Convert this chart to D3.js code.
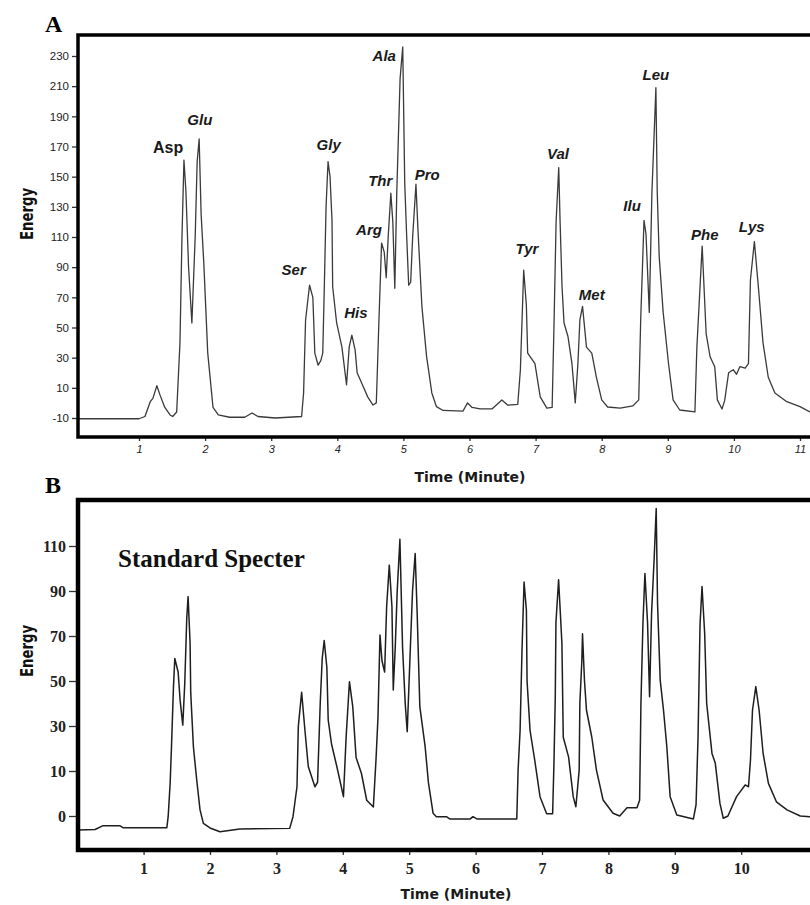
<!DOCTYPE html>
<html><head><meta charset="utf-8">
<script src="https://cdn.jsdelivr.net/npm/d3@7"></script>
<style>
html,body{margin:0;padding:0;background:#fff;}
svg{display:block;}
</style></head>
<body>
<script>
// ---------- DATA ----------
// Panel A (sample)
const timeA = [0.08,1.00,1.09,1.17,1.21,1.27,1.32,1.39,1.47,1.51,1.57,1.62,1.65,1.68,1.71,1.75,1.80,1.85,1.88,1.91,1.94,1.98,2.04,2.12,2.20,2.37,2.60,2.71,2.80,3.06,3.46,3.49,3.52,3.58,3.63,3.66,3.71,3.75,3.78,3.80,3.83,3.86,3.89,3.92,3.93,3.99,4.07,4.14,4.18,4.22,4.27,4.30,4.39,4.46,4.54,4.59,4.60,4.63,4.67,4.71,4.74,4.77,4.81,4.84,4.87,4.90,4.95,4.99,5.02,5.05,5.08,5.11,5.14,5.19,5.22,5.28,5.35,5.43,5.50,5.60,5.90,5.97,6.04,6.16,6.34,6.49,6.58,6.73,6.77,6.82,6.86,6.88,6.99,7.07,7.17,7.25,7.28,7.31,7.35,7.37,7.40,7.43,7.49,7.55,7.60,7.64,7.67,7.71,7.77,7.85,7.92,8.00,8.09,8.28,8.47,8.56,8.59,8.64,8.67,8.72,8.76,8.82,8.84,8.87,8.93,9.01,9.08,9.18,9.41,9.44,9.52,9.58,9.64,9.71,9.75,9.82,9.86,9.92,9.99,10.04,10.09,10.17,10.22,10.25,10.31,10.37,10.44,10.52,10.62,10.80,11.00,11.15,11.45];
const energyA = [-10.5,-10.5,-9,0.8,3,11.4,5,-3,-8,-9,-6,40,110,161,140,90,53,110,160,175,125,93,33,-3,-8,-9.5,-9.5,-6.7,-9,-10,-9,6.5,55,78,70,33,25,28,33,70,130,160,150,121,77,53,37,12,37,45,35,20,11,4,-1.4,0,13,55,106,100,83,110,139,120,76,140,215,236,146,110,78,80,110,145,115,64,31,6.6,-2.5,-5,-5.5,0,-3,-4,-4,2,-1.5,-1,22,88,65,33,26,4,-3.4,-3,55,120,156,121,77,53,44,26,0,26,55,64,37,33,17,2,-2.7,-3.5,-2,2,55,121,112,60,140,209,140,97,60,26.5,2,-4.7,-6,37,104,46,30.6,24,2,-4,1.5,20,22,19,24,23,26,81.5,107,77,40,17,6.6,0.8,-2.5,-6,-7];
const ticksAX = [1,2,3,4,5,6,7,8,9,10,11];
const ticksAY = [-10,10,30,50,70,90,110,130,150,170,190,210,230];
const peakNames = ["Asp","Glu","Ser","Gly","His","Arg","Thr","Ala","Pro","Tyr","Val","Met","Ilu","Leu","Phe","Lys"];
const peakLabelTime = [1.44,1.92,3.34,3.87,4.28,4.48,4.65,4.71,5.36,6.87,7.34,7.85,8.46,8.82,9.56,10.27];
const peakLabelEnergy = [166,184,85,168,56,111,144,227,148,99,162,68,127,214,108,113];

// Panel B (standard)
const timeB = [0.01,0.27,0.39,0.64,0.69,1.35,1.37,1.40,1.42,1.45,1.47,1.52,1.55,1.59,1.62,1.65,1.67,1.70,1.71,1.75,1.80,1.85,1.90,2.00,2.15,2.45,3.20,3.25,3.31,3.33,3.38,3.43,3.48,3.58,3.62,3.66,3.69,3.72,3.76,3.78,3.83,3.91,4.01,4.05,4.10,4.15,4.20,4.28,4.36,4.46,4.50,4.53,4.56,4.59,4.63,4.66,4.70,4.74,4.76,4.79,4.82,4.86,4.90,4.94,4.97,5.01,5.05,5.09,5.12,5.16,5.24,5.29,5.36,5.41,5.56,5.61,5.92,5.96,6.02,6.62,6.64,6.67,6.70,6.73,6.765,6.775,6.82,6.89,6.97,7.07,7.16,7.18,7.20,7.21,7.25,7.30,7.32,7.40,7.47,7.51,7.56,7.57,7.60,7.61,7.64,7.67,7.75,7.82,7.92,8.07,8.17,8.28,8.43,8.47,8.49,8.52,8.55,8.59,8.62,8.65,8.69,8.72,8.74,8.78,8.83,8.88,8.93,9.03,9.28,9.32,9.35,9.38,9.41,9.45,9.48,9.56,9.61,9.68,9.73,9.80,9.93,10.06,10.11,10.14,10.17,10.22,10.27,10.33,10.41,10.53,10.69,10.89,11.04,11.34];
const energyB = [-16.2,-16,-14.3,-14.3,-15.2,-15.2,-10.3,4.6,20.8,47.5,60,54,41.5,30.4,49,78,87.5,67,44.6,20.8,6,-7.3,-13.3,-15.3,-17,-15.8,-15.5,-10.3,3,29.7,45,28,12,3,5,40,60,68,56,32.7,22,12,-1.4,25,49.7,38.6,16,9,-3,-6,15,34,70.4,59,54,83,101.5,83,46,65,90.4,113,65,40,27.5,59,90,106.7,80,38.6,20.8,4.7,-8.8,-10.3,-10.3,-11.3,-11.3,-10.3,-11.3,-11.3,10.4,28,65,94,81.5,50,28,14.9,-1.4,-9,-9,13.4,43,76,95,66.7,25,16.3,-1.4,-5.9,10.4,40,59,71,50,37,25,10.4,-2.9,-8.8,-10,-6.3,-6.3,-3,40,75.6,97.8,75.6,43,80,105,126.7,84.4,50.4,37,20.8,-1.4,-9.6,-11.3,-5,25,75,92,71,40,17.8,13.4,-4.4,-11,-10,-1.4,3.8,3,15,37,47.5,37,17.8,4.5,-3.7,-7.3,-10,-10.3,-10.5];
const ticksBX = [1,2,3,4,5,6,7,8,9,10];
const ticksBY = [-10,10,30,50,70,90,110];
const ticksBYLabels = ["0","10","30","50","70","90","110"];

// ---------- DRAW ----------
const W = 810, H = 905;
const svg = d3.select("body").append("svg").attr("width", W).attr("height", H);

function panel(cfg){
  const g = svg.append("g");
  const x = d3.scaleLinear().domain(cfg.xDomain).range(cfg.xRange);
  const y = d3.scaleLinear().domain(cfg.yDomain).range(cfg.yRange);
  const id = "clip" + cfg.name;
  svg.append("clipPath").attr("id", id).append("rect")
    .attr("x", cfg.left).attr("y", cfg.top).attr("width", 900).attr("height", cfg.bottom - cfg.top);
  const pts = cfg.t.map((t,i)=>[t, cfg.v[i]]);
  g.append("path").datum(pts)
    .attr("clip-path", `url(#${id})`)
    .attr("fill","none").attr("stroke", cfg.lineColor).attr("stroke-width", cfg.lineWidth)
    .attr("stroke-linejoin","round")
    .attr("d", d3.line().x(d=>x(d[0])).y(d=>y(d[1])));
  // y axis
  const ya = g.append("g").attr("transform", `translate(${cfg.left},0)`)
    .call(d3.axisLeft(y).tickValues(cfg.yTicks).tickSize(cfg.yTickSize).tickPadding(3)
      .tickFormat((d,i)=> cfg.yTickLabels ? cfg.yTickLabels[i] : d));
  ya.select(".domain").remove();
  ya.selectAll("line").attr("stroke","#333").attr("stroke-width",1.3);
  ya.selectAll("text").attr("font-family", cfg.yFont).attr("font-size", cfg.yFontSize)
    .attr("font-weight", cfg.yWeight).attr("fill","#222");
  // x axis
  const xa = g.append("g").attr("transform", `translate(0,${cfg.bottom})`)
    .call(d3.axisBottom(x).tickValues(cfg.xTicks).tickSize(cfg.xTickSize).tickPadding(cfg.xPad).tickFormat(d3.format("d")));
  xa.select(".domain").remove();
  xa.selectAll("line").attr("stroke","#333").attr("stroke-width",1.3);
  xa.selectAll("text").attr("font-family", cfg.xFont).attr("font-size", cfg.xFontSize)
    .attr("font-weight", cfg.xWeight).attr("font-style", cfg.xStyle).attr("fill","#222");
  // frame
  g.append("path").attr("fill","none").attr("stroke","#000").attr("stroke-width", cfg.frameW)
    .attr("d", `M${W+10},${cfg.top}H${cfg.left}V${cfg.bottom}H${W+10}`);
  return {x, y, g};
}

const A = panel({name:"A", t: timeA, v: energyA,
  xDomain:[0,11], xRange:[72.9, 800], yDomain:[-10,230], yRange:[418,56],
  left:78, top:35, bottom:437, frameW:3.5,
  yTicks: ticksAY, yTickSize:6, yFont:"Liberation Sans, Arial, sans-serif", yFontSize:11.5, yWeight:"normal",
  xTicks: ticksAX, xTickSize:4, xPad:4, xFont:"Liberation Sans, Arial, sans-serif", xFontSize:11, xWeight:"normal", xStyle:"italic",
  lineColor:"#3a3a3a", lineWidth:1.3});

const B = panel({name:"B", t: timeB, v: energyB,
  xDomain:[0,10], xRange:[77.2, 741.2], yDomain:[-10,110], yRange:[816,546],
  left:78, top:500, bottom:850, frameW:4.5,
  yTicks: ticksBY, yTickLabels: ticksBYLabels, yTickSize:9, yFont:"Liberation Serif, Times New Roman, serif", yFontSize:16, yWeight:"bold",
  xTicks: ticksBX, xTickSize:5, xPad:8, xFont:"Liberation Serif, Times New Roman, serif", xFontSize:16, xWeight:"bold", xStyle:"normal",
  lineColor:"#1e1e1e", lineWidth:1.5});

// peak labels (panel A)
peakNames.forEach((n,i)=>{
  const plain = n === "Asp";
  svg.append("text").attr("x", A.x(peakLabelTime[i])).attr("y", A.y(peakLabelEnergy[i]))
    .attr("text-anchor","middle")
    .attr("font-family","Liberation Sans, Arial, sans-serif")
    .attr("font-size", plain ? 16 : 15).attr("font-weight","bold")
    .attr("font-style", plain ? "normal" : "italic").attr("fill","#1a1a1a")
    .text(n);
});

// panel letters
svg.append("text").attr("x",45).attr("y",32).attr("font-family","Liberation Serif, Times New Roman, serif")
  .attr("font-size",24).attr("font-weight","bold").text("A");
svg.append("text").attr("x",45).attr("y",493).attr("font-family","Liberation Serif, Times New Roman, serif")
  .attr("font-size",24).attr("font-weight","bold").text("B");

// axis titles
function yTitle(cx, cy){
  svg.append("text").attr("transform",`translate(${cx},${cy}) rotate(-90)`)
    .attr("text-anchor","middle").attr("font-family","DejaVu Sans Condensed, DejaVu Sans, sans-serif")
    .attr("font-size",17).attr("font-weight","bold").attr("fill","#111")
    .attr("textLength",52).attr("lengthAdjust","spacingAndGlyphs").text("Energy");
}
yTitle(33, 214);
yTitle(33, 651);
svg.append("text").attr("x",470).attr("y",482).attr("text-anchor","middle")
  .attr("font-family","DejaVu Sans, Verdana, sans-serif").attr("font-size",14).attr("font-weight","bold")
  .attr("fill","#1a1a1a").text("Time (Minute)");
svg.append("text").attr("x",456).attr("y",899).attr("text-anchor","middle")
  .attr("font-family","DejaVu Sans, Verdana, sans-serif").attr("font-size",14).attr("font-weight","bold")
  .attr("fill","#1a1a1a").text("Time (Minute)");

svg.append("text").attr("x",118).attr("y",567).attr("font-family","Liberation Serif, Times New Roman, serif")
  .attr("font-size",25).attr("font-weight","bold").attr("fill","#111").text("Standard Specter");
</script>
</body></html>
